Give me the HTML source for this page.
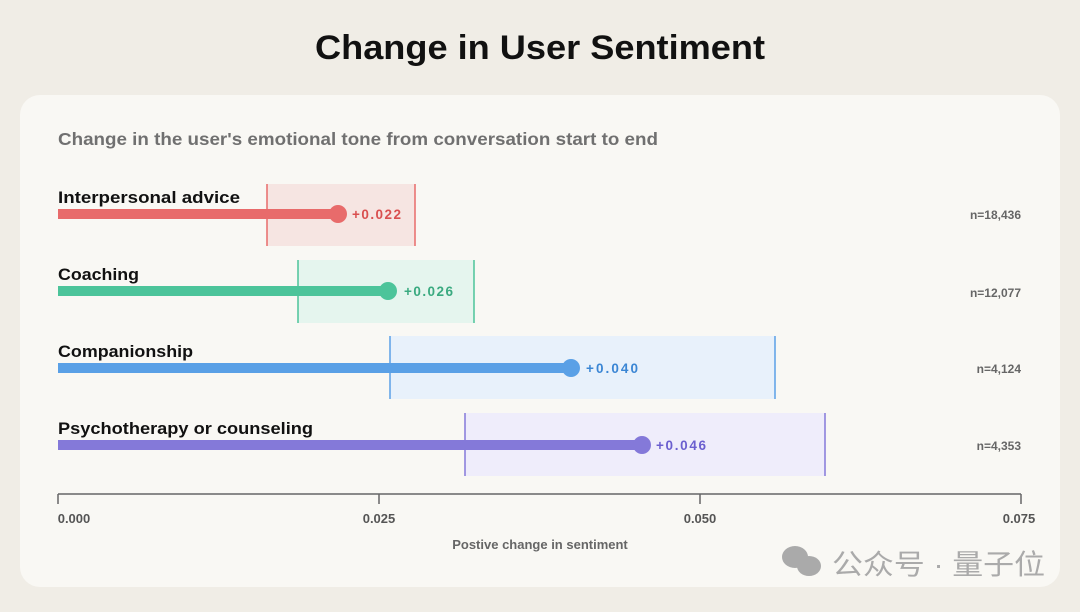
<!DOCTYPE html>
<html><head><meta charset="utf-8"><style>
body{margin:0;width:1080px;height:607px;background:#f0ede6;font-family:"Liberation Sans",sans-serif;overflow:hidden}
</style></head><body>
<svg width="1080" height="607" xmlns="http://www.w3.org/2000/svg" font-family="Liberation Sans, Noto Sans CJK SC, sans-serif">
<text x="315" y="59" font-size="34" font-weight="bold" fill="#111" textLength="450" lengthAdjust="spacingAndGlyphs">Change in User Sentiment</text>
<rect x="20" y="95" width="1040" height="492" rx="20" fill="#f9f8f4"/>
<text x="58" y="145" font-size="17.5" font-weight="bold" fill="#707070" textLength="600" lengthAdjust="spacingAndGlyphs">Change in the user's emotional tone from conversation start to end</text>

<rect x="267" y="184" width="148" height="62" fill="#f6e5e2"/>
<line x1="267" y1="184" x2="267" y2="246" stroke="#e86b6b" stroke-width="1.5"/>
<line x1="415" y1="184" x2="415" y2="246" stroke="#e86b6b" stroke-width="1.5"/>
<rect x="58" y="209" width="280" height="10" fill="#e86b6b"/>
<circle cx="338" cy="214" r="9" fill="#e86b6b"/>
<text x="352" y="219" font-size="13.5" font-weight="bold" fill="#d94f4f" textLength="49">+0.022</text>
<text x="58" y="203" font-size="17" font-weight="bold" fill="#111" textLength="182" lengthAdjust="spacingAndGlyphs">Interpersonal advice</text>
<text x="1021" y="219" font-size="12" font-weight="bold" fill="#666" text-anchor="end">n=18,436</text>

<rect x="298" y="260" width="176" height="63" fill="#e5f5ee"/>
<line x1="298" y1="260" x2="298" y2="323" stroke="#4cc49a" stroke-width="1.5"/>
<line x1="474" y1="260" x2="474" y2="323" stroke="#4cc49a" stroke-width="1.5"/>
<rect x="58" y="286" width="330" height="10" fill="#4cc49a"/>
<circle cx="388" cy="291" r="9" fill="#4cc49a"/>
<text x="404" y="296" font-size="13.5" font-weight="bold" fill="#3aaa80" textLength="49">+0.026</text>
<text x="58" y="280" font-size="17" font-weight="bold" fill="#111" textLength="81" lengthAdjust="spacingAndGlyphs">Coaching</text>
<text x="1021" y="297" font-size="12" font-weight="bold" fill="#666" text-anchor="end">n=12,077</text>

<rect x="390" y="336" width="385" height="63" fill="#e8f1fb"/>
<line x1="390" y1="336" x2="390" y2="399" stroke="#5aa0e6" stroke-width="1.5"/>
<line x1="775" y1="336" x2="775" y2="399" stroke="#5aa0e6" stroke-width="1.5"/>
<rect x="58" y="363" width="513" height="10" fill="#5aa0e6"/>
<circle cx="571" cy="368" r="9" fill="#5aa0e6"/>
<text x="586" y="373" font-size="13.5" font-weight="bold" fill="#3b86d4" textLength="52">+0.040</text>
<text x="58" y="357" font-size="17" font-weight="bold" fill="#111" textLength="135" lengthAdjust="spacingAndGlyphs">Companionship</text>
<text x="1021" y="373" font-size="12" font-weight="bold" fill="#666" text-anchor="end">n=4,124</text>

<rect x="465" y="413" width="360" height="63" fill="#efedfb"/>
<line x1="465" y1="413" x2="465" y2="476" stroke="#8479d9" stroke-width="1.5"/>
<line x1="825" y1="413" x2="825" y2="476" stroke="#8479d9" stroke-width="1.5"/>
<rect x="58" y="440" width="584" height="10" fill="#8479d9"/>
<circle cx="642" cy="445" r="9" fill="#8479d9"/>
<text x="656" y="450" font-size="13.5" font-weight="bold" fill="#6b5fcf" textLength="50">+0.046</text>
<text x="58" y="434" font-size="17" font-weight="bold" fill="#111" textLength="255" lengthAdjust="spacingAndGlyphs">Psychotherapy or counseling</text>
<text x="1021" y="450" font-size="12" font-weight="bold" fill="#666" text-anchor="end">n=4,353</text>

<g stroke="#666" stroke-width="1.5">
<line x1="58" y1="494" x2="1021" y2="494"/>
<line x1="58" y1="494" x2="58" y2="504"/>
<line x1="379" y1="494" x2="379" y2="504"/>
<line x1="700" y1="494" x2="700" y2="504"/>
<line x1="1021" y1="494" x2="1021" y2="504"/>
</g>
<g font-size="13" font-weight="bold" fill="#555" text-anchor="middle">
<text x="74" y="523">0.000</text>
<text x="379" y="523">0.025</text>
<text x="700" y="523">0.050</text>
<text x="1019" y="523">0.075</text>
</g>
<text x="540" y="549" font-size="13" font-weight="bold" fill="#666" text-anchor="middle">Postive change in sentiment</text>
<g fill="#aaa">
<ellipse cx="795" cy="557" rx="13" ry="11"/>
<ellipse cx="809" cy="566" rx="12" ry="10"/>
</g>
<text x="832" y="574" font-size="28" fill="#aaa" textLength="213" lengthAdjust="spacingAndGlyphs">公众号 · 量子位</text>
</svg>
</body></html>
